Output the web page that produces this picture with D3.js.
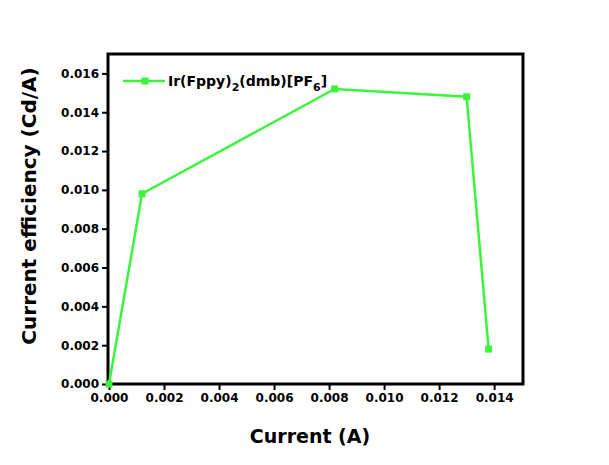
<!DOCTYPE html>
<html><head><meta charset="utf-8">
<script src="https://cdn.jsdelivr.net/npm/d3@7"></script>
<style>body{margin:0;background:#fff}svg{display:block}text{font-family:"DejaVu Sans",Arial,sans-serif;font-weight:bold}</style>
</head><body>
<script>
const currents = [0.0000, 0.0012, 0.0082, 0.0130, 0.0138];
const efficiencies = [0.0000, 0.0098, 0.0152, 0.0148, 0.0018];
const xTicks = [0, 0.002, 0.004, 0.006, 0.008, 0.010, 0.012, 0.014];
const yTicks = [0, 0.002, 0.004, 0.006, 0.008, 0.010, 0.012, 0.014, 0.016];
const seriesName = "Ir(Fppy)2(dmb)[PF6]";
const color = "#3cf43c";

const W = 609, H = 465;
const m = {left:108, right:609-523, top:54, bottom:465-384};
const svg = d3.select("body").append("svg").attr("width",W).attr("height",H);
const x = d3.scaleLinear().domain([0,0.01505]).range([m.left+1, W-m.right]);
const y = d3.scaleLinear().domain([0,0.0170]).range([H-m.bottom, m.top]);

// frame
svg.append("rect").attr("x",m.left).attr("y",m.top).attr("width",W-m.right-m.left).attr("height",H-m.bottom-m.top)
  .attr("fill","none").attr("stroke","#000").attr("stroke-width",3);

const xAxis = svg.append("g").attr("transform",`translate(0,${H-m.bottom})`)
  .call(d3.axisBottom(x).tickValues(xTicks).tickFormat(d3.format(".3f")).tickSize(6).tickPadding(3));
const yAxis = svg.append("g").attr("transform",`translate(${m.left},0)`)
  .call(d3.axisLeft(y).tickValues(yTicks).tickFormat(d3.format(".3f")).tickSize(6).tickPadding(3));
[xAxis,yAxis].forEach(a=>{
  a.select(".domain").remove();
  a.selectAll(".tick line").attr("stroke","#000").attr("stroke-width",2);
  a.selectAll(".tick text").attr("fill","#000").style("font-size","12px").style("font-weight","bold");
});

const data = currents.map((c,i)=>({c, e:efficiencies[i]}));
svg.append("path").datum(data).attr("fill","none").attr("stroke",color).attr("stroke-width",2.5)
  .attr("d", d3.line().x(d=>x(d.c)).y(d=>y(d.e)));
svg.selectAll("rect.pt").data(data).enter().append("rect").attr("class","pt")
  .attr("x",d=>x(d.c)-3.5).attr("y",d=>y(d.e)-3.5).attr("width",7).attr("height",7).attr("fill",color);

// legend
const lg = svg.append("g");
lg.append("line").attr("x1",123).attr("x2",165).attr("y1",81).attr("y2",81).attr("stroke",color).attr("stroke-width",2.5);
lg.append("rect").attr("x",145-3.5).attr("y",81-3.5).attr("width",7).attr("height",7).attr("fill",color);
const lt = lg.append("text").attr("x",168).attr("y",86).style("font-size","14px").attr("fill","#000");
lt.append("tspan").text("Ir(Fppy)");
lt.append("tspan").text("2").attr("dy",5).style("font-size","11px");
lt.append("tspan").text("(dmb)[PF").attr("dy",-5);
lt.append("tspan").text("6").attr("dy",5).style("font-size","11px");
lt.append("tspan").text("]").attr("dy",-5);

// axis titles
svg.append("text").attr("x",310).attr("y",443).attr("text-anchor","middle")
  .style("font-size","19px").attr("fill","#000").text("Current (A)");
svg.append("text").attr("transform",`translate(36,206) rotate(-90)`).attr("text-anchor","middle")
  .style("font-size","20px").attr("fill","#000").text("Current efficiency (Cd/A)");
</script>
</body></html>
